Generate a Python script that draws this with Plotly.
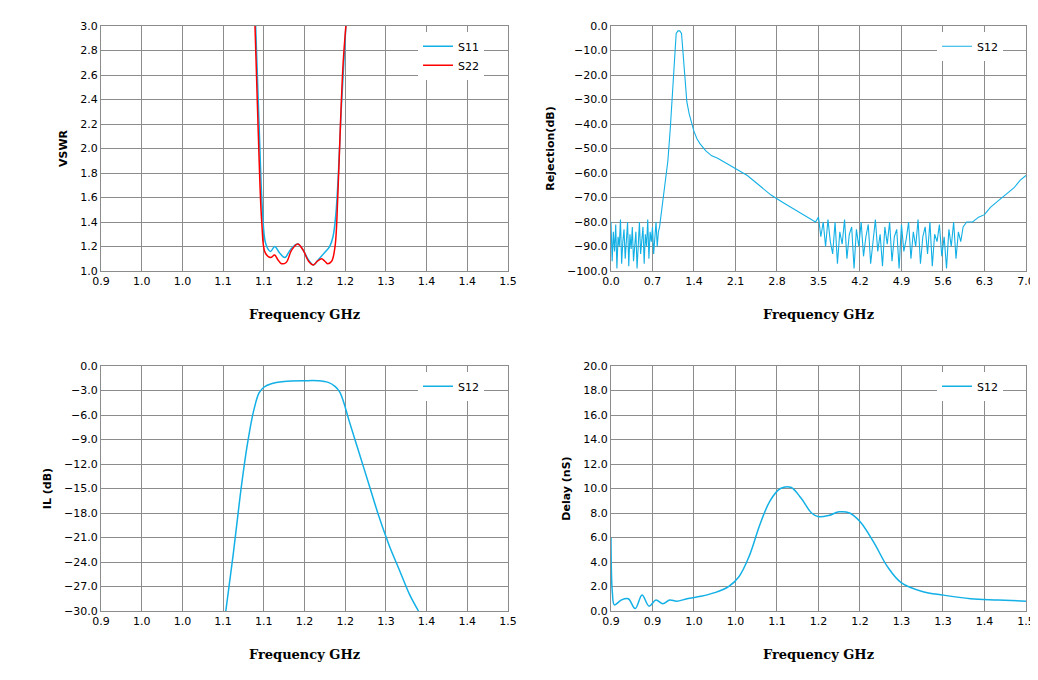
import plotly.graph_objects as go

BLUE = '#13B0E6'
RED = '#FF0000'

# VSWR (top left)
s11_f = [1.128, 1.133, 1.138, 1.143, 1.150, 1.156, 1.163, 1.171, 1.180, 1.190, 1.198, 1.206, 1.213, 1.220, 1.228, 1.237, 1.242, 1.246, 1.250, 1.254, 1.258, 1.261]
s11_v = [3.0, 2.2, 1.5, 1.22, 1.16, 1.2, 1.15, 1.11, 1.18, 1.22, 1.17, 1.09, 1.05, 1.09, 1.14, 1.2, 1.28, 1.45, 1.8, 2.3, 2.7, 3.0]
s22_f = [1.127, 1.132, 1.137, 1.142, 1.150, 1.156, 1.161, 1.166, 1.173, 1.181, 1.190, 1.198, 1.206, 1.213, 1.219, 1.225, 1.230, 1.234, 1.240, 1.245, 1.249, 1.253, 1.257, 1.261]
s22_v = [3.0, 2.1, 1.4, 1.15, 1.11, 1.13, 1.09, 1.06, 1.07, 1.17, 1.22, 1.17, 1.08, 1.05, 1.08, 1.1, 1.08, 1.06, 1.08, 1.2, 1.6, 2.2, 2.7, 3.0]

# Rejection (top right): low-band noise, passband, slope, high-band noise, rise
rej_low_f = [0.00, 0.02, 0.04, 0.06, 0.08, 0.10, 0.12, 0.14, 0.16, 0.18, 0.20, 0.22, 0.24, 0.26, 0.28, 0.30, 0.32, 0.34, 0.36, 0.38,
             0.40, 0.42, 0.44, 0.46, 0.48, 0.50, 0.52, 0.54, 0.56, 0.58, 0.60, 0.62, 0.64, 0.66, 0.68, 0.70, 0.72, 0.74, 0.76, 0.78, 0.80]
rej_low_v = [-80, -96, -84, -92, -81, -99, -86, -90, -79, -97, -88, -83, -95, -87, -80, -98, -85, -91, -82, -96, -89, -84, -99, -86,
             -80, -93, -88, -82, -97, -85, -90, -79, -95, -84, -88, -82, -93, -86, -80, -90, -84]
rej_mid_f = [0.82, 0.85, 0.88, 0.92, 0.96, 1.00, 1.04, 1.08, 1.10, 1.13, 1.16, 1.19, 1.22, 1.25, 1.28, 1.32, 1.36, 1.40, 1.45, 1.50,
             1.60, 1.70, 1.80, 1.95, 2.10, 2.30, 2.50, 2.70, 2.90, 3.10, 3.30, 3.45]
rej_mid_v = [-82, -76, -70, -64, -55, -42, -25, -9, -3, -2, -2, -3, -12, -24, -31, -36, -40, -43, -46, -48,
             -51, -53, -54, -56, -58, -61, -65, -69, -72, -75, -78, -80]
rej_high_f = [3.50, 3.54, 3.58, 3.62, 3.66, 3.70, 3.74, 3.78, 3.82, 3.86, 3.90, 3.94, 3.98, 4.02, 4.06, 4.10, 4.14, 4.18, 4.22, 4.26,
              4.30, 4.34, 4.38, 4.42, 4.46, 4.50, 4.54, 4.58, 4.62, 4.66, 4.70, 4.74, 4.78, 4.82, 4.86, 4.90, 4.94, 4.98, 5.02, 5.06,
              5.10, 5.14, 5.18, 5.22, 5.26, 5.30, 5.34, 5.38, 5.42, 5.46, 5.50, 5.54, 5.58, 5.62, 5.66, 5.70, 5.74, 5.78, 5.82, 5.86, 5.90, 5.94]
rej_high_v = [-78, -86, -80, -90, -79, -88, -93, -80, -97, -84, -89, -79, -95, -85, -82, -99, -83, -90, -80, -94, -86, -81, -97, -88,
              -79, -92, -85, -98, -82, -89, -80, -96, -86, -83, -99, -81, -92, -87, -80, -95, -84, -90, -79, -97, -86, -82, -93, -80,
              -98, -85, -88, -81, -94, -86, -99, -83, -90, -80, -95, -84, -88, -82]
rej_end_f = [6.00, 6.10, 6.20, 6.30, 6.40, 6.50, 6.60, 6.70, 6.80, 6.90, 7.00]
rej_end_v = [-80, -80, -78, -77, -74, -72, -70, -68, -66, -63, -61]

# Insertion loss (bottom left)
il_f = [1.084, 1.095, 1.105, 1.115, 1.125, 1.133, 1.140, 1.150, 1.170, 1.200, 1.220, 1.235, 1.245, 1.252, 1.258, 1.265, 1.280, 1.295, 1.310, 1.325, 1.340, 1.355, 1.368]
il_v = [-30.0, -23.0, -16.0, -10.0, -5.5, -3.3, -2.6, -2.2, -1.9, -1.8, -1.8, -2.0, -2.5, -3.2, -4.5, -6.5, -10.5, -14.5, -18.5, -22.0, -25.0, -28.0, -30.0]

# Group delay (bottom right)
dl_f = [0.900, 0.902, 0.905, 0.915, 0.925, 0.935, 0.945, 0.955, 0.965, 0.975, 0.985, 0.995, 1.010, 1.030, 1.050, 1.070, 1.085, 1.100, 1.115, 1.130,
        1.145, 1.160, 1.175, 1.190, 1.200, 1.215, 1.230, 1.245, 1.260, 1.280, 1.300, 1.320, 1.350, 1.380, 1.420, 1.460, 1.500]
dl_v = [6.0, 1.5, 0.5, 0.9, 1.0, 0.2, 1.3, 0.4, 0.9, 0.6, 0.9, 0.8, 1.0, 1.2, 1.5, 2.0, 2.8, 4.5, 7.0, 9.0,
        10.0, 10.1, 9.2, 8.0, 7.7, 7.8, 8.1, 8.0, 7.3, 5.6, 3.6, 2.3, 1.6, 1.3, 1.0, 0.9, 0.8]

rej_f = rej_low_f + rej_mid_f + rej_high_f + rej_end_f
rej_v = rej_low_v + rej_mid_v + rej_high_v + rej_end_v

fig = go.Figure()
fig.add_trace(go.Scatter(x=s11_f, y=s11_v, name='S11', line=dict(color=BLUE, width=1.5, shape='spline'), xaxis='x', yaxis='y'))
fig.add_trace(go.Scatter(x=s22_f, y=s22_v, name='S22', line=dict(color=RED, width=1.5, shape='spline'), xaxis='x', yaxis='y'))
fig.add_trace(go.Scatter(x=rej_f, y=rej_v, name='S12', line=dict(color=BLUE, width=1.1), xaxis='x2', yaxis='y2', legend='legend2'))
fig.add_trace(go.Scatter(x=il_f, y=il_v, name='S12', line=dict(color=BLUE, width=1.5, shape='spline'), xaxis='x3', yaxis='y3', legend='legend3'))
fig.add_trace(go.Scatter(x=dl_f, y=dl_v, name='S12', line=dict(color=BLUE, width=1.5, shape='spline'), xaxis='x4', yaxis='y4', legend='legend4'))

title_font = dict(family='DejaVu Serif', size=13, color='black')
tick_font = dict(family='DejaVu Sans', size=11, color='black')
narrow_vals = [0.9 + 0.06 * i for i in range(11)]

def xax(domain, anchor, vals, text, rng):
    return dict(domain=domain, anchor=anchor, range=rng, tickvals=vals, ticktext=text, automargin=False,
                showgrid=True, gridcolor='#8c8c8c', showline=True, linecolor='#8c8c8c', mirror=True,
                title=dict(text='<b>Frequency GHz</b>', font=title_font, standoff=22), tickfont=tick_font,
                zeroline=False)

def yax(domain, anchor, title, rng, dtick, fmt):
    return dict(domain=domain, anchor=anchor, range=rng, dtick=dtick, tickformat=fmt, automargin=False,
                showgrid=True, gridcolor='#8c8c8c', showline=True, linecolor='#8c8c8c', mirror=True,
                title=dict(text='<b>' + title + '</b>', font=dict(family='DejaVu Sans', size=11, color='black'), standoff=10),
                tickfont=tick_font, zeroline=False)

xl = [0.0896, 0.4817]
xr = [0.5809, 0.9807]
yt = [0.6132, 0.9735]
yb = [0.1132, 0.4735]
lbl1 = ['0.9', '1.0', '1.0', '1.1', '1.1', '1.2', '1.2', '1.3', '1.4', '1.4', '1.5']
lbl4 = ['0.9', '0.9', '1.0', '1.0', '1.1', '1.2', '1.2', '1.3', '1.3', '1.4', '1.5']
rej_vals = [0.7 * i for i in range(11)]
rej_text = ['%.1f' % v for v in rej_vals]

legend_style = dict(bgcolor='white', font=dict(family='DejaVu Sans', size=11, color='black'), xanchor='left', yanchor='top')

fig.update_layout(
    width=1038, height=680,
    margin=dict(l=0, r=0, t=0, b=0),
    plot_bgcolor='white', paper_bgcolor='white',
    xaxis=xax(xl, 'y', narrow_vals, lbl1, [0.9, 1.5]),
    yaxis=yax(yt, 'x', 'VSWR', [1.0, 3.0], 0.2, '.1f'),
    xaxis2=xax(xr, 'y2', rej_vals, rej_text, [0, 7.0]),
    yaxis2=yax(yt, 'x2', 'Rejection(dB)', [-100, 0], 10, '.1f'),
    xaxis3=xax(xl, 'y3', narrow_vals, lbl1, [0.9, 1.5]),
    yaxis3=yax(yb, 'x3', 'IL (dB)', [-30, 0], 3, '.1f'),
    xaxis4=xax(xr, 'y4', narrow_vals, lbl4, [0.9, 1.5]),
    yaxis4=yax(yb, 'x4', 'Delay (nS)', [0, 20], 2, '.1f'),
    legend=dict(x=0.395, y=0.965, **legend_style),
    legend2=dict(x=0.895, y=0.965, **legend_style),
    legend3=dict(x=0.395, y=0.465, **legend_style),
    legend4=dict(x=0.895, y=0.465, **legend_style),
)

fig.write_html('out.html')
